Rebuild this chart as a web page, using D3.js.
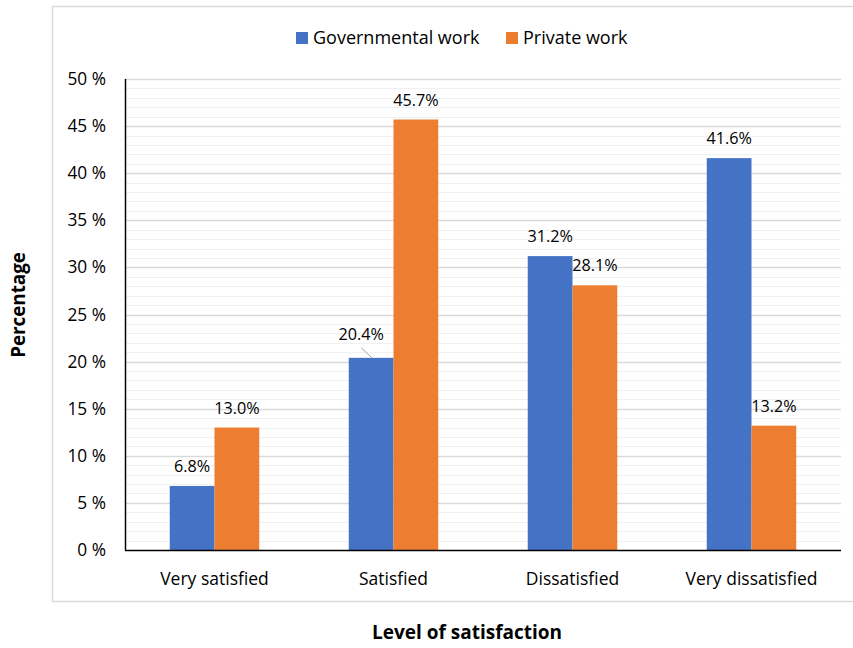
<!DOCTYPE html>
<html>
<head>
<meta charset="utf-8">
<script src="https://cdn.jsdelivr.net/npm/d3@7"></script>
<style>
  html, body { margin: 0; padding: 0; background: #fff; }
  svg { display: block; font-family: "Open Sans", "Noto Sans", sans-serif; }
</style>
</head>
<body>
<svg id="chart" width="853" height="648"></svg>
<script>
// Satisfaction levels and the share of respondents in each sector
const categories = ["Very satisfied", "Satisfied", "Dissatisfied", "Very dissatisfied"];
const seriesNames = ["Governmental work", "Private work"];
const governmental = [6.8, 20.4, 31.2, 41.6];
const privateWork = [13.0, 45.7, 28.1, 13.2];
const yTicks = [0, 5, 10, 15, 20, 25, 30, 35, 40, 45, 50];
const colors = ["#4472C4", "#ED7D31"];

const values = [governmental, privateWork];

const svg = d3.select("#chart");
const plot = { left: 125, right: 841, top: 79, bottom: 550 };

// Outer chart frame
svg.append("rect")
  .attr("x", 52.5).attr("y", 6.5)
  .attr("width", 820).attr("height", 595)
  .attr("fill", "#fff").attr("stroke", "#d9d9d9").attr("stroke-width", 1.5);

const y = d3.scaleLinear().domain([0, 50]).range([plot.bottom, plot.top]);
const x0 = d3.scaleBand().domain(categories).range([plot.left, plot.right]).paddingInner(0).paddingOuter(0);
const x1 = d3.scaleBand().domain(seriesNames)
  .range([x0.bandwidth() * 0.25, x0.bandwidth() * 0.75]).padding(0);

// Minor gridlines every 1 %
const minor = d3.range(0, 51, 1).filter(v => v % 5 !== 0);
svg.append("g").selectAll("line").data(minor).join("line")
  .attr("x1", plot.left).attr("x2", plot.right)
  .attr("y1", d => Math.round(y(d)) + 0.5).attr("y2", d => Math.round(y(d)) + 0.5)
  .attr("stroke", "#f0f0f0").attr("stroke-width", 1);

// Major gridlines
svg.append("g").selectAll("line").data(yTicks.filter(v => v > 0)).join("line")
  .attr("x1", plot.left).attr("x2", plot.right)
  .attr("y1", d => Math.round(y(d)) + 0.5).attr("y2", d => Math.round(y(d)) + 0.5)
  .attr("stroke", "#d9d9d9").attr("stroke-width", 1.5);

// Bars
const groups = svg.append("g").selectAll("g").data(categories).join("g")
  .attr("transform", d => `translate(${x0(d)},0)`);

groups.selectAll("rect")
  .data((c, i) => seriesNames.map((s, j) => ({ s, j, v: values[j][i] })))
  .join("rect")
  .attr("x", d => x1(d.s))
  .attr("width", x1.bandwidth())
  .attr("y", d => y(d.v))
  .attr("height", d => y(0) - y(d.v))
  .attr("fill", d => colors[d.j]);

// Value labels
const labelFont = 16.2;
groups.each(function (c, i) {
  const g = d3.select(this);
  seriesNames.forEach((s, j) => {
    const v = values[j][i];
    const cx = x1(s) + x1.bandwidth() / 2;
    let lx = cx, ly = y(v) - 14;
    // the Satisfied/Governmental label sits up and to the left with a leader line
    if (i === 1 && j === 0) {
      lx = cx - 10; ly = y(v) - 18;
      g.append("line")
        .attr("x1", cx - 10).attr("y1", y(v) - 10)
        .attr("x2", cx + 1).attr("y2", y(v))
        .attr("stroke", "#a6a6a6").attr("stroke-width", 1);
    }
    g.append("text")
      .attr("x", lx).attr("y", ly)
      .attr("text-anchor", "middle")
      .attr("font-size", labelFont).attr("fill", "#000")
      .text(v.toFixed(1) + "%");
  });
});

// Y axis
const yAxis = d3.axisLeft(y).tickValues(yTicks).tickSize(0).tickPadding(19)
  .tickFormat(d => d + " %");
const gy = svg.append("g").attr("transform", `translate(${plot.left},0)`).call(yAxis);
gy.select(".domain").remove();
gy.selectAll("text").attr("font-size", 17.3).attr("fill", "#000")
  .attr("font-family", "\"Open Sans\", sans-serif");
svg.append("line")
  .attr("x1", plot.left + 0.5).attr("x2", plot.left + 0.5)
  .attr("y1", plot.top).attr("y2", plot.bottom)
  .attr("stroke", "#000").attr("stroke-width", 1.5);

// X axis
const xAxis = d3.axisBottom(x0).tickSize(0).tickPadding(23);
const gx = svg.append("g").attr("transform", `translate(0,${plot.bottom})`).call(xAxis);
gx.select(".domain").remove();
gx.selectAll("text").attr("font-size", 17.5).attr("fill", "#000")
  .attr("font-family", "\"Open Sans\", sans-serif");
svg.append("line")
  .attr("x1", plot.left).attr("x2", plot.right)
  .attr("y1", plot.bottom + 0.5).attr("y2", plot.bottom + 0.5)
  .attr("stroke", "#000").attr("stroke-width", 1.5);

// Axis titles
svg.append("text")
  .attr("x", 467).attr("y", 639)
  .attr("text-anchor", "middle").attr("font-size", 19).attr("font-weight", "bold")
  .text("Level of satisfaction");
svg.append("text")
  .attr("transform", "translate(25,305) rotate(-90)")
  .attr("text-anchor", "middle").attr("font-size", 18.8).attr("font-weight", "bold")
  .text("Percentage");

// Legend
const legendItems = [
  { name: seriesNames[0], color: colors[0], x: 296 },
  { name: seriesNames[1], color: colors[1], x: 506 }
];
const lg = svg.append("g").selectAll("g").data(legendItems).join("g")
  .attr("transform", d => `translate(${d.x},32)`);
lg.append("rect").attr("width", 12).attr("height", 12).attr("fill", d => d.color);
lg.append("text").attr("x", 17).attr("y", 11.5)
  .attr("font-size", 18).attr("fill", "#000")
  .text(d => d.name);
</script>
</body>
</html>
